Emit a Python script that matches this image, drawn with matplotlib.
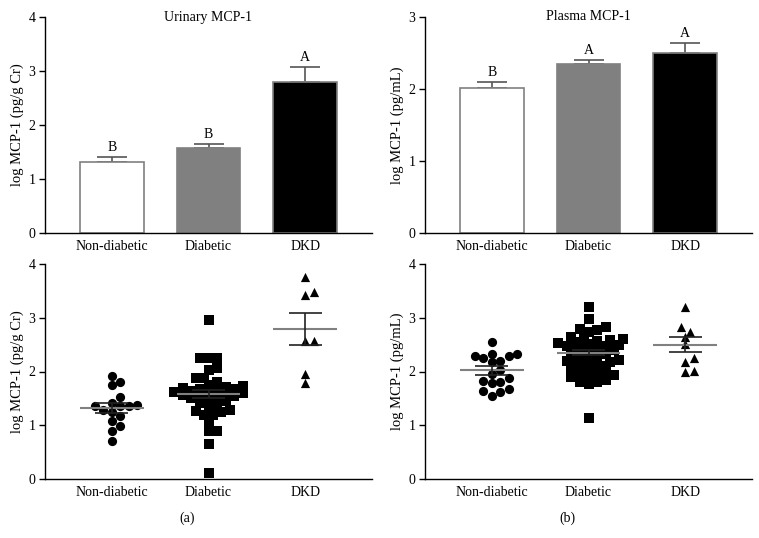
import numpy as np
import matplotlib
matplotlib.use("Agg")
import matplotlib.pyplot as plt

plt.rcParams["font.family"] = ["Liberation Serif", "DejaVu Serif"]

groups = ["Non-diabetic", "Diabetic", "DKD"]

# bar charts: mean and SEM
urine_mean = [1.32, 1.58, 2.79]
urine_sem = [0.09, 0.07, 0.29]
urine_letters = ["B", "B", "A"]
plasma_mean = [2.02, 2.35, 2.50]
plasma_sem = [0.08, 0.05, 0.14]
plasma_letters = ["B", "A", "A"]

# individual values, urinary
urine_nd = [1.81, 1.75, 1.92, 1.53, 1.41, 1.36, 1.35, 1.25, 1.28, 1.36, 1.37,
            1.17, 1.07, 0.99, 0.90, 0.71]
urine_dia = [2.96, 2.26, 2.26, 2.26, 2.06, 2.03, 1.87, 1.87, 1.81, 1.75, 1.73,
             1.72, 1.70, 1.68, 1.67, 1.65, 1.64, 1.62, 1.61, 1.60, 1.58, 1.57,
             1.55, 1.54, 1.52, 1.50, 1.48, 1.45, 1.42, 1.38, 1.35, 1.28, 1.27,
             1.25, 1.19, 1.19, 1.07, 0.89, 0.89, 0.66, 0.12]
urine_dkd = [3.76, 3.42, 3.48, 2.57, 2.57, 1.95, 1.79]

# individual values, plasma
plasma_nd = [2.55, 2.33, 2.28, 2.26, 2.17, 2.20, 2.28, 2.32, 2.02, 1.96, 1.87,
             1.79, 1.83, 1.80, 1.64, 1.67, 1.61, 1.55]
plasma_dia = [3.20, 2.97, 2.82, 2.80, 2.77, 2.74, 2.65, 2.62, 2.60, 2.58, 2.56,
              2.55, 2.53, 2.52, 2.50, 2.48, 2.47, 2.45, 2.43, 2.40, 2.38, 2.36,
              2.33, 2.30, 2.28, 2.25, 2.22, 2.20, 2.18, 2.17, 2.15, 2.13, 2.10,
              2.07, 2.03, 2.00, 1.99, 1.99, 1.93, 1.90, 1.90, 1.84, 1.81, 1.81,
              1.76, 1.14]
plasma_dkd = [3.20, 2.74, 2.83, 2.64, 2.51, 2.26, 2.18, 1.99, 2.01]

GRAY = "#808080"
W, H = 759, 538


def make_ax(fig, x0, y0, x1, y1):
    return fig.add_axes([x0 / W, 1 - y1 / H, (x1 - x0) / W, (y1 - y0) / H])


def style(ax, ymax, ylabel):
    ax.set_xlim(-0.69, 2.69)
    ax.set_ylim(0, ymax)
    ax.set_yticks(range(ymax + 1))
    ax.set_xticks(range(3))
    ax.set_xticklabels(groups)
    ax.tick_params(axis="x", length=0, pad=5, labelsize=10)
    ax.tick_params(axis="y", length=4, width=1, labelsize=10, pad=3)
    for s in ["top", "right"]:
        ax.spines[s].set_visible(False)
    for s in ["left", "bottom"]:
        ax.spines[s].set_linewidth(1)
    ax.set_ylabel(ylabel, fontsize=10.5, labelpad=3)


def bars(ax, means, sems, letters, title):
    ax.bar(range(3), means, width=0.66, color=["white", GRAY, "black"],
           edgecolor=GRAY, linewidth=1.2, zorder=2)
    ax.errorbar(range(3), means, yerr=[np.zeros(3), sems], fmt="none",
                ecolor="#555555", elinewidth=1.2, capsize=11, capthick=1.2,
                zorder=1)
    for i, (m, s, l) in enumerate(zip(means, sems, letters)):
        ax.annotate(l, (i, m + s), xytext=(0, 2), textcoords="offset points",
                    ha="center", va="bottom", fontsize=10)
    ax.text(0.5, 1.0, title, transform=ax.transAxes, ha="center",
            va="center", fontsize=10)


def swarm(vals, xpx, ypx, d=8.6, tight=0.8):
    # simple beeswarm offsets in data units
    order = np.argsort(vals)
    placed = []
    offs = np.zeros(len(vals))
    cands = [0.0]
    for k in range(1, 40):
        cands += [k * d / 2, -k * d / 2]
    for i in order:
        y = vals[i] * ypx
        for c in cands:
            if all((c - px) ** 2 + (y - py) ** 2 >= (tight * d) ** 2 for px, py in placed):
                offs[i] = c
                placed.append((c, y))
                break
    return offs / xpx


def dots(ax, data, means, sems, ymax):
    markers = ["o", "s", "^"]
    xpx = 97.0
    ypx = 215.0 / ymax
    for i, vals in enumerate(data):
        vals = np.array(vals)
        off = swarm(vals, xpx, ypx, tight=0.95 if i == 0 else 0.78)
        ax.scatter(i + off, vals, marker=markers[i], s=44, color="black",
                   linewidths=0, zorder=2)
        ax.hlines(means[i], i - 0.33, i + 0.33, color=GRAY, lw=1.5, zorder=3)
        ax.hlines([means[i] - sems[i], means[i] + sems[i]], i - 0.17, i + 0.17,
                  color="#222222", lw=1.2, zorder=3)
        ax.vlines(i, means[i] - sems[i], means[i] + sems[i], color="#222222",
                  lw=1.2, zorder=3)


fig = plt.figure(figsize=(W / 100, H / 100), dpi=100)

ax1 = make_ax(fig, 45, 17, 372, 233)
bars(ax1, urine_mean, urine_sem, urine_letters, "Urinary MCP-1")
style(ax1, 4, "log MCP-1 (pg/g Cr)")

ax2 = make_ax(fig, 425, 17, 752, 233)
bars(ax2, plasma_mean, plasma_sem, plasma_letters, "Plasma MCP-1")
style(ax2, 3, "log MCP-1 (pg/mL)")

ax3 = make_ax(fig, 45, 264, 372, 479)
dots(ax3, [urine_nd, urine_dia, urine_dkd], urine_mean, urine_sem, 4)
style(ax3, 4, "log MCP-1 (pg/g Cr)")

ax4 = make_ax(fig, 425, 264, 752, 479)
dots(ax4, [plasma_nd, plasma_dia, plasma_dkd], plasma_mean, plasma_sem, 4)
style(ax4, 4, "log MCP-1 (pg/mL)")

fig.text(187 / W, 1 - 518 / H, "(a)", ha="center", va="center", fontsize=10)
fig.text(567 / W, 1 - 518 / H, "(b)", ha="center", va="center", fontsize=10)

fig.savefig("out.png", dpi=100)
